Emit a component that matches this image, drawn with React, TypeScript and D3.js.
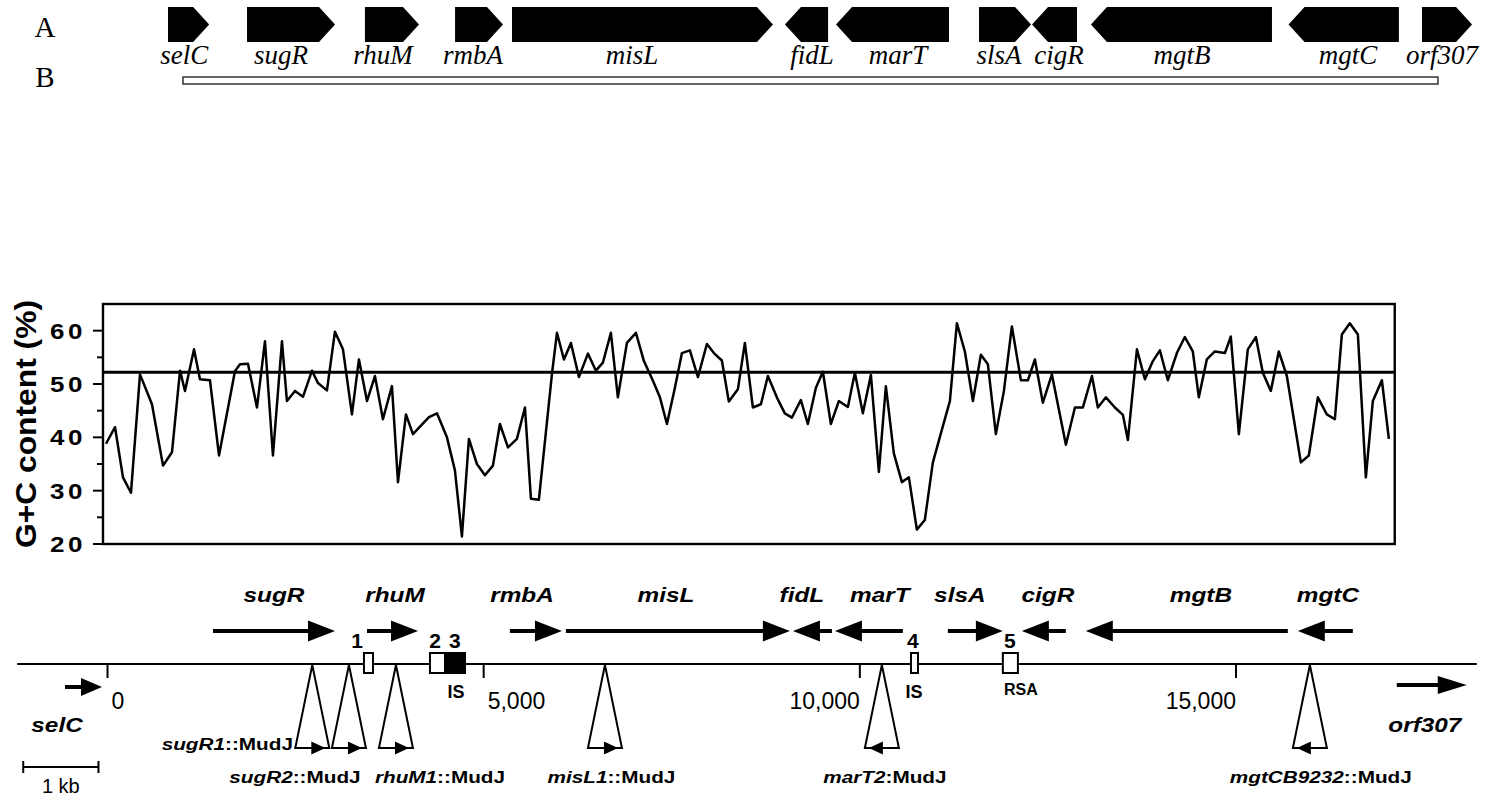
import React from 'react';
import * as d3 from 'd3';

// ---- row A: schematic gene map (positions as fraction of map width)
const topGenes = ['selC', 'sugR', 'rhuM', 'rmbA', 'misL', 'fidL', 'marT', 'slsA', 'cigR', 'mgtB', 'mgtC', 'orf307'];
const topStart = [0, 0.0605, 0.1508, 0.2198, 0.2634, 0.4724, 0.5115, 0.621, 0.6616, 0.7067, 0.858, 0.9602];
const topEnd = [0.0315, 0.1279, 0.1922, 0.2565, 0.4632, 0.5054, 0.598, 0.6608, 0.696, 0.8453, 0.9425, 0.9985];
const topForward = [true, true, true, true, true, false, false, true, false, false, false, true];
const topLabelAt = [0.0125, 0.0865, 0.1646, 0.2335, 0.3553, 0.4931, 0.559, 0.6363, 0.6822, 0.7764, 0.9035, 0.9755];
// ---- row B: cloned fragment
const rowBSpan = [0.0115, 0.9724];

// ---- G+C content (bp position, %)
const gcPos = [
  -20, 100, 206, 312, 432, 591, 738, 857, 964, 1030, 1150, 1229, 1362, 1482, 1694, 1761, 1867, 1987, 2093, 2199,
  2319, 2385, 2492, 2598, 2718, 2797, 2917, 3023, 3130, 3249, 3342, 3449, 3555, 3661, 3781, 3861, 3967, 4060, 4166, 4273,
  4379, 4512, 4618, 4711, 4804, 4910, 5017, 5123, 5216, 5323, 5442, 5549, 5628, 5734, 5907, 5974, 6067, 6160, 6266, 6386,
  6492, 6585, 6691, 6784, 6904, 7024, 7130, 7250, 7343, 7436, 7542, 7635, 7741, 7848, 7967, 8060, 8166, 8259, 8379, 8472,
  8578, 8685, 8778, 8897, 9003, 9097, 9216, 9309, 9416, 9509, 9615, 9721, 9841, 9934, 10040, 10147, 10253, 10346, 10452, 10559,
  10652, 10758, 10864, 10971, 11090, 11197, 11290, 11396, 11503, 11609, 11702, 11808, 11915, 12021, 12141, 12234, 12327, 12433, 12553, 12739,
  12859, 12965, 13085, 13164, 13271, 13390, 13497, 13563, 13683, 13789, 13895, 13988, 14094, 14214, 14320, 14426, 14506, 14612, 14719, 14852,
  14931, 15038, 15157, 15264, 15357, 15463, 15569, 15676, 15862, 15968, 16088, 16207, 16314, 16407, 16513, 16620, 16726, 16819, 16939, 17032,
];
const gcValue = [
  38.8, 41.9, 32.5, 29.6, 51.8, 46.2, 34.7, 37.2, 52.5, 48.7, 56.5, 50.9, 50.7, 36.6, 52.4, 53.7, 53.8, 45.6, 58, 36.6,
  58, 46.8, 48.7, 47.6, 52.5, 50.2, 48.8, 59.8, 56.5, 44.3, 54.6, 46.8, 51.5, 43.4, 49.6, 31.6, 44.3, 40.6, 42.2, 43.8,
  44.5, 40, 33.8, 21.4, 39.7, 35, 32.9, 34.7, 42.5, 38.1, 39.7, 45.6, 28.5, 28.3, 51.8, 59.6, 54.6, 57.7, 51.3, 55.7,
  52.5, 54, 59.6, 47.5, 57.7, 59.6, 54.3, 50.6, 47.5, 42.5, 49.3, 55.8, 56.3, 51.3, 57.5, 55.8, 54.4, 46.7, 49, 57.7,
  45.6, 46.2, 51.5, 47.5, 44.5, 43.7, 47, 42.5, 49.3, 52.3, 42.5, 46.8, 45.7, 52.1, 44.5, 51.7, 33.5, 49.6, 37, 31.6,
  32.5, 22.7, 24.5, 35.3, 41.4, 46.8, 61.4, 56.1, 46.8, 55.5, 53.7, 40.6, 48.7, 60.8, 50.7, 50.7, 54.6, 46.5, 51.8, 38.6,
  45.6, 45.6, 51.5, 45.6, 47.5, 45.6, 44.2, 39.5, 56.5, 50.9, 54.3, 56.3, 50.7, 55.8, 58.8, 56.1, 47.5, 54.6, 56.1, 55.8,
  58.9, 40.6, 56.5, 58.8, 52.1, 48.7, 56.1, 51.5, 35.3, 36.6, 47.5, 44.3, 43.4, 59.3, 61.4, 59.3, 32.5, 46.8, 50.7, 39.7,
];
const gcMean = 52.2;
const gcSpan = [-60, 17110];
const gcRange = [20, 65];

// ---- physical map (bp)
const mapSpan = [-1200, 18200];
const mapTicks = [0, 5000, 10000, 15000];
const mapTickLabels = ['0', '5,000', '10,000', '15,000'];
const mapGenes = ['sugR', 'rhuM', 'rmbA', 'misL', 'fidL', 'marT', 'slsA', 'cigR', 'mgtB', 'mgtC'];
const mapTail = [1402, 3449, 5349, 6093, 9629, 10572, 11170, 12738, 15689, 16553];
const mapTip = [3024, 4127, 6040, 9070, 9111, 9669, 11901, 12154, 13004, 15822];
const mapLabelAt = [2213, 3821, 5509, 7423, 9229, 10266, 11329, 12499, 14534, 16222];
const flankGenes = ['selC', 'orf307'];
const flankTail = [-565, 17137];
const flankTip = [-73, 18067];
const flankLabelAt = [-671, 17510];

const siteIds = ['1', '2', '3', '4', '5'];
const siteFrom = [3409, 4286, 4486, 10680, 11901];
const siteTo = [3529, 4486, 4752, 10773, 12101];
const siteFilled = [false, false, true, false, false];
const siteLabelAt = [3316, 4353, 4618, 10705, 11995];
const siteNotes = ['IS', 'IS', 'RSA'];
const siteNoteAt = [4632, 10719, 12140];

const insertNames = ['sugR1', 'sugR2', 'rhuM1', 'misL1', 'marT2', 'mgtCB9232'];
const insertSep = ['::', '::', '::', '::', ':', '::'];
const insertAt = [2722, 3209, 3834, 6612, 10293, 15982];
const insertForward = [true, true, true, true, false, false];
const insertLabelAt = [2465, 2492, 4419, 6698, 10333, 16127];
const insertLabelRow = [0, 1, 1, 1, 1, 1];

const scaleBar = [-1120, -120];

const SANS = "'Liberation Sans', Arial, Helvetica, sans-serif";
const SERIF = "'Liberation Serif', 'Times New Roman', serif";

const SText = ({ x, y, sx = 1, anchor = 'middle', size, weight = 'bold', italic = false, family = SANS, children }: any) => (
  <text
    transform={`translate(${x},${y}) scale(${sx},1)`}
    textAnchor={anchor}
    fontSize={size}
    fontWeight={weight}
    fontStyle={italic ? 'italic' : 'normal'}
    fontFamily={family}
    fill="#000"
  >
    {children}
  </text>
);

// line arrow with filled triangular head
const LineArrow = ({ x0, x1, y, head, half, width }: any) => {
  const dir = x1 > x0 ? 1 : -1;
  const hb = x1 - dir * head;
  return (
    <g>
      <line x1={x0} x2={hb + dir * 2} y1={y} y2={y} stroke="#000" strokeWidth={width} />
      <path d={`M${hb},${y - half}L${x1},${y}L${hb},${y + half}Z`} fill="#000" />
    </g>
  );
};

export default function App() {
  const W = 1492;
  const H = 799;

  const topX = d3.scaleLinear().domain([0, 1]).range([168, 1474]);
  const x = d3.scaleLinear().domain([0, 15000]).range([107.5, 1236]);
  const y = d3.scaleLinear().domain(gcRange).range([544, 304]);

  const gcData = gcPos.map((p, i) => [p, gcValue[i]] as [number, number]);
  const gcLine = d3
    .line<[number, number]>()
    .x((d) => x(d[0]))
    .y((d) => y(d[1]))(gcData);

  const yTicks = d3.range(gcRange[0], gcRange[1], 5);
  const fL = x(gcSpan[0]);
  const fR = x(gcSpan[1]);

  const topY0 = 7;
  const topY1 = 42;
  const topHead = 16;

  const mapY = 664;
  const geneY = 631;
  const baseY = 748;
  const triHalf = 17;

  return (
    <svg width={W} height={H} style={{ position: 'absolute', left: 0, top: 0, background: '#fff' }}>
      <rect width={W} height={H} fill="#fff" />

      {/* ---------- row A / B ---------- */}
      <text x={45} y={37} textAnchor="middle" fontFamily={SERIF} fontSize={29}>A</text>
      <text x={45} y={87} textAnchor="middle" fontFamily={SERIF} fontSize={29}>B</text>
      {topGenes.map((g, i) => {
        const a = topX(topStart[i]);
        const b = topX(topEnd[i]);
        const m = (topY0 + topY1) / 2;
        const d = topForward[i]
          ? `M${a},${topY0}L${b - topHead},${topY0}L${b},${m}L${b - topHead},${topY1}L${a},${topY1}Z`
          : `M${b},${topY0}L${a + topHead},${topY0}L${a},${m}L${a + topHead},${topY1}L${b},${topY1}Z`;
        return (
          <g key={g}>
            <path d={d} fill="#000" />
            <text x={topX(topLabelAt[i])} y={64} textAnchor="middle" fontFamily={SERIF} fontStyle="italic" fontSize={27}>
              {g}
            </text>
          </g>
        );
      })}
      <rect
        x={topX(rowBSpan[0])}
        y={77}
        width={topX(rowBSpan[1]) - topX(rowBSpan[0])}
        height={7}
        fill="#fff"
        stroke="#333"
        strokeWidth={1.5}
      />

      {/* ---------- G+C content ---------- */}
      <path d={gcLine || ''} fill="none" stroke="#000" strokeWidth={2.5} strokeLinejoin="round" />
      <line x1={fL} x2={fR} y1={y(gcMean)} y2={y(gcMean)} stroke="#000" strokeWidth={3.2} />
      <rect x={fL} y={y(gcRange[1])} width={fR - fL} height={y(gcRange[0]) - y(gcRange[1])} fill="none" stroke="#000" strokeWidth={2.4} />
      {yTicks.map((t) => {
        const major = t % 10 === 0;
        return (
          <g key={t}>
            <line x1={fL - (major ? 10 : 6)} x2={fL} y1={y(t)} y2={y(t)} stroke="#000" strokeWidth={2} />
            {major && (
              <SText x={fL - 17} y={y(t) + 8} anchor="end" size={22} sx={1.18}>
                <tspan letterSpacing={3}>{t}</tspan>
              </SText>
            )}
          </g>
        );
      })}
      <text
        transform={`translate(36,${(y(gcRange[0]) + y(gcRange[1])) / 2}) rotate(-90)`}
        textAnchor="middle"
        fontFamily={SANS}
        fontWeight="bold"
        fontSize={30}
        textLength={248}
        lengthAdjust="spacingAndGlyphs"
      >
        G+C content (%)
      </text>

      {/* ---------- physical map ---------- */}
      <line x1={x(mapSpan[0])} x2={x(mapSpan[1])} y1={mapY} y2={mapY} stroke="#000" strokeWidth={2.2} />
      {mapTicks.map((t, i) => (
        <g key={t}>
          <line x1={x(t)} x2={x(t)} y1={mapY} y2={mapY + 14} stroke="#000" strokeWidth={2} />
          <text
            x={x(t) + (i < 2 ? 4 : 0)}
            y={709}
            textAnchor={i < 2 ? 'start' : 'end'}
            fontFamily={SANS}
            fontSize={23}
          >
            {mapTickLabels[i]}
          </text>
        </g>
      ))}

      {mapGenes.map((g, i) => (
        <g key={g}>
          <LineArrow x0={x(mapTail[i])} x1={x(mapTip[i])} y={geneY} head={27} half={10.5} width={4} />
          <SText x={x(mapLabelAt[i])} y={602} size={21} sx={1.16} italic>
            {g}
          </SText>
        </g>
      ))}
      {flankGenes.map((g, i) => (
        <g key={g}>
          <LineArrow x0={x(flankTail[i])} x1={x(flankTip[i])} y={i === 0 ? 687 : 685} head={i === 0 ? 21 : 29} half={9} width={4} />
          <SText x={x(flankLabelAt[i])} y={732} size={21} sx={1.16} italic>
            {g}
          </SText>
        </g>
      ))}

      {/* sites */}
      {siteIds.map((s, i) => (
        <g key={s}>
          <rect
            x={x(siteFrom[i])}
            y={653}
            width={x(siteTo[i]) - x(siteFrom[i])}
            height={20}
            fill={siteFilled[i] ? '#000' : '#fff'}
            stroke="#000"
            strokeWidth={2}
          />
          <SText x={x(siteLabelAt[i])} y={648} size={21}>
            {s}
          </SText>
        </g>
      ))}
      {siteNotes.map((n, i) => (
        <SText key={i} x={x(siteNoteAt[i])} y={i === 2 ? 695 : 698} size={i === 2 ? 16 : 18}>
          {n}
        </SText>
      ))}

      {/* MudJ insertions */}
      {insertNames.map((n, i) => {
        const ax = x(insertAt[i]);
        const l = ax - triHalf;
        const r = ax + triHalf;
        const dir = insertForward[i] ? 1 : -1;
        const tip = insertForward[i] ? r - 4 : l + 4;
        const hb = tip - dir * 14;
        const row0 = insertLabelRow[i] === 0;
        return (
          <g key={n}>
            <path d={`M${ax},${mapY + 1}L${r},${baseY}L${l},${baseY}Z`} fill="#fff" stroke="#000" strokeWidth={2} strokeLinejoin="miter" />
            <path d={`M${hb},${baseY - 6.5}L${tip},${baseY}L${hb},${baseY + 6.5}Z`} fill="#000" />
            <SText
              x={x(insertLabelAt[i])}
              y={row0 ? 750 : 783}
              anchor={row0 ? 'end' : 'middle'}
              size={17}
              sx={1.22}
            >
              <tspan fontStyle="italic">{n}</tspan>
              {insertSep[i]}MudJ
            </SText>
          </g>
        );
      })}

      {/* scale bar */}
      <line x1={x(scaleBar[0])} x2={x(scaleBar[1])} y1={767} y2={767} stroke="#000" strokeWidth={2} />
      <line x1={x(scaleBar[0])} x2={x(scaleBar[0])} y1={761} y2={773} stroke="#000" strokeWidth={2} />
      <line x1={x(scaleBar[1])} x2={x(scaleBar[1])} y1={761} y2={773} stroke="#000" strokeWidth={2} />
      <text x={x((scaleBar[0] + scaleBar[1]) / 2)} y={793} textAnchor="middle" fontFamily={SANS} fontSize={20}>
        1 kb
      </text>
    </svg>
  );
}
